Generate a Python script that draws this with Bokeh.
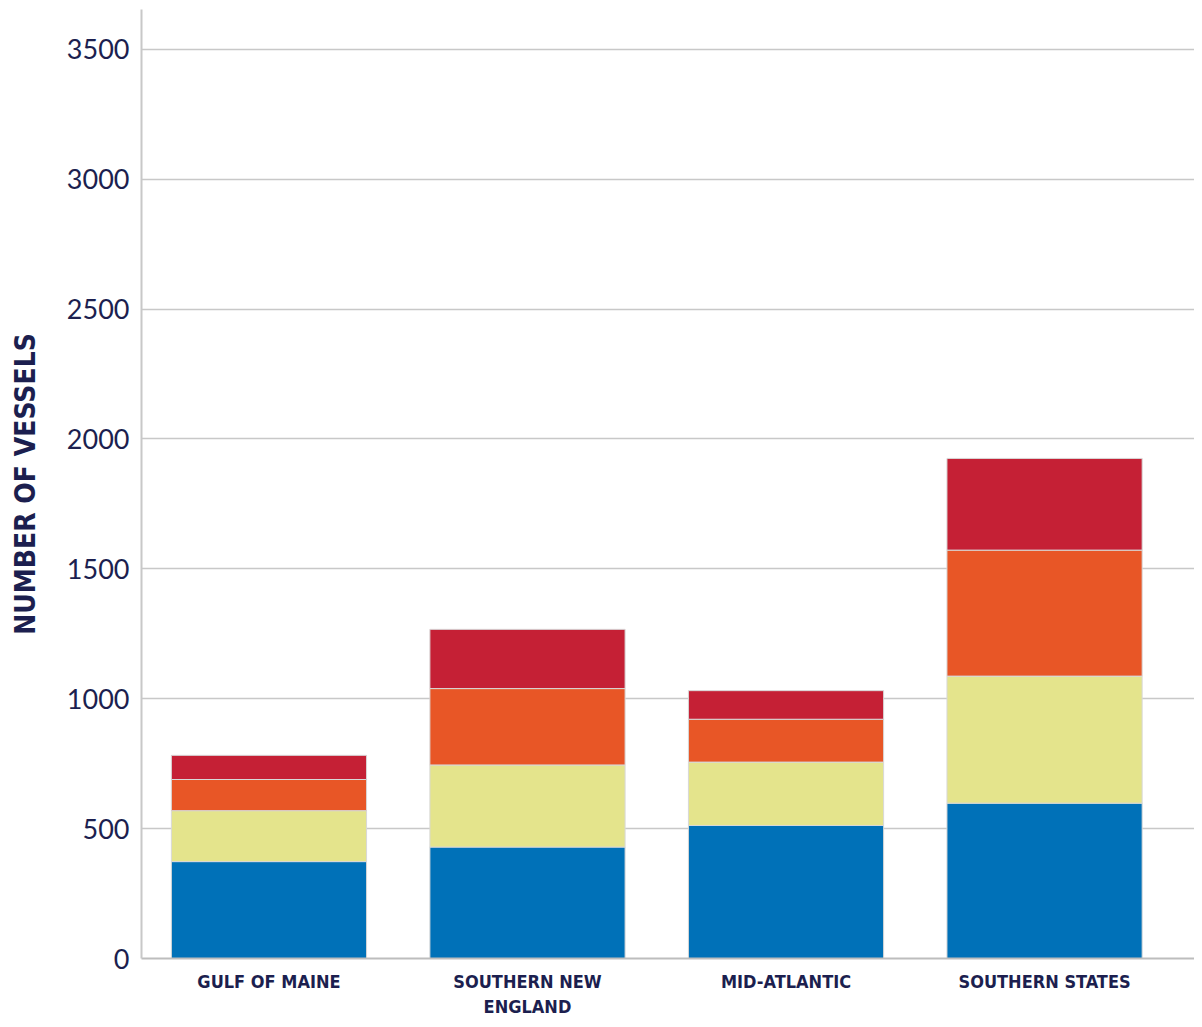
from bokeh.plotting import figure
from bokeh.models import Range1d, FixedTicker, ColumnDataSource
from bokeh.embed import file_html
from bokeh.resources import INLINE

regions = ["GULF OF MAINE", "SOUTHERN NEW\nENGLAND", "MID-ATLANTIC", "SOUTHERN STATES"]
tier_a = [373, 429, 512, 598]
tier_b = [196, 316, 244, 489]
tier_c = [120, 294, 165, 485]
tier_d = [93, 228, 110, 353]
y_ticks = [0, 500, 1000, 1500, 2000, 2500, 3000, 3500]

keys = ["tier_a", "tier_b", "tier_c", "tier_d"]
colors = ["#0071b8", "#e4e48c", "#e85626", "#c52035"]

idx = list(range(len(regions)))
source = ColumnDataSource(data=dict(idx=idx, tier_a=tier_a, tier_b=tier_b,
                                    tier_c=tier_c, tier_d=tier_d))

NAVY = "#1c1f4f"
COND = "DejaVu Sans Condensed"

p = figure(width=1194, height=1020, output_backend="svg", toolbar_location=None,
           x_range=Range1d(-0.493, 3.580), y_range=Range1d(0, 3653),
           min_border_left=141, min_border_right=0, min_border_top=9,
           min_border_bottom=62)
p.outline_line_color = None

p.vbar_stack(keys, x="idx", width=0.755, source=source, color=colors,
             line_color="#d8d8d8", line_width=1)

p.xaxis.ticker = FixedTicker(ticks=idx)
p.xaxis.major_label_overrides = {i: r for i, r in zip(idx, regions)}
p.xaxis.major_label_text_font = COND
p.xaxis.major_label_text_font_style = "bold"
p.xaxis.major_label_text_font_size = "18px"
p.xaxis.major_label_text_color = NAVY
p.xaxis.major_label_standoff = 12
p.xaxis.axis_line_color = "#bdbdbd"
p.xaxis.axis_line_width = 2
p.xaxis.major_tick_line_color = None
p.xaxis.minor_tick_line_color = None
p.xaxis.major_tick_out = 0
p.xaxis.major_tick_in = 0
p.xgrid.grid_line_color = None

p.yaxis.ticker = FixedTicker(ticks=y_ticks)
p.yaxis.axis_label = "NUMBER OF VESSELS"
p.yaxis.axis_label_text_font = COND
p.yaxis.axis_label_text_font_style = "bold"
p.yaxis.axis_label_text_font_size = "28px"
p.yaxis.axis_label_text_color = NAVY
p.yaxis.axis_label_standoff = 22
p.yaxis.major_label_text_font = "Lato"
p.yaxis.major_label_text_font_size = "27px"
p.yaxis.major_label_text_color = NAVY
p.yaxis.major_label_standoff = 12
p.yaxis.axis_line_color = "#c8c8c8"
p.yaxis.axis_line_width = 2
p.yaxis.major_tick_line_color = None
p.yaxis.minor_tick_line_color = None
p.yaxis.major_tick_out = 0
p.yaxis.major_tick_in = 0
p.ygrid.grid_line_color = "#c8c8c8"
p.ygrid.grid_line_width = 1.5

open("out.html", "w").write(file_html(p, INLINE))
